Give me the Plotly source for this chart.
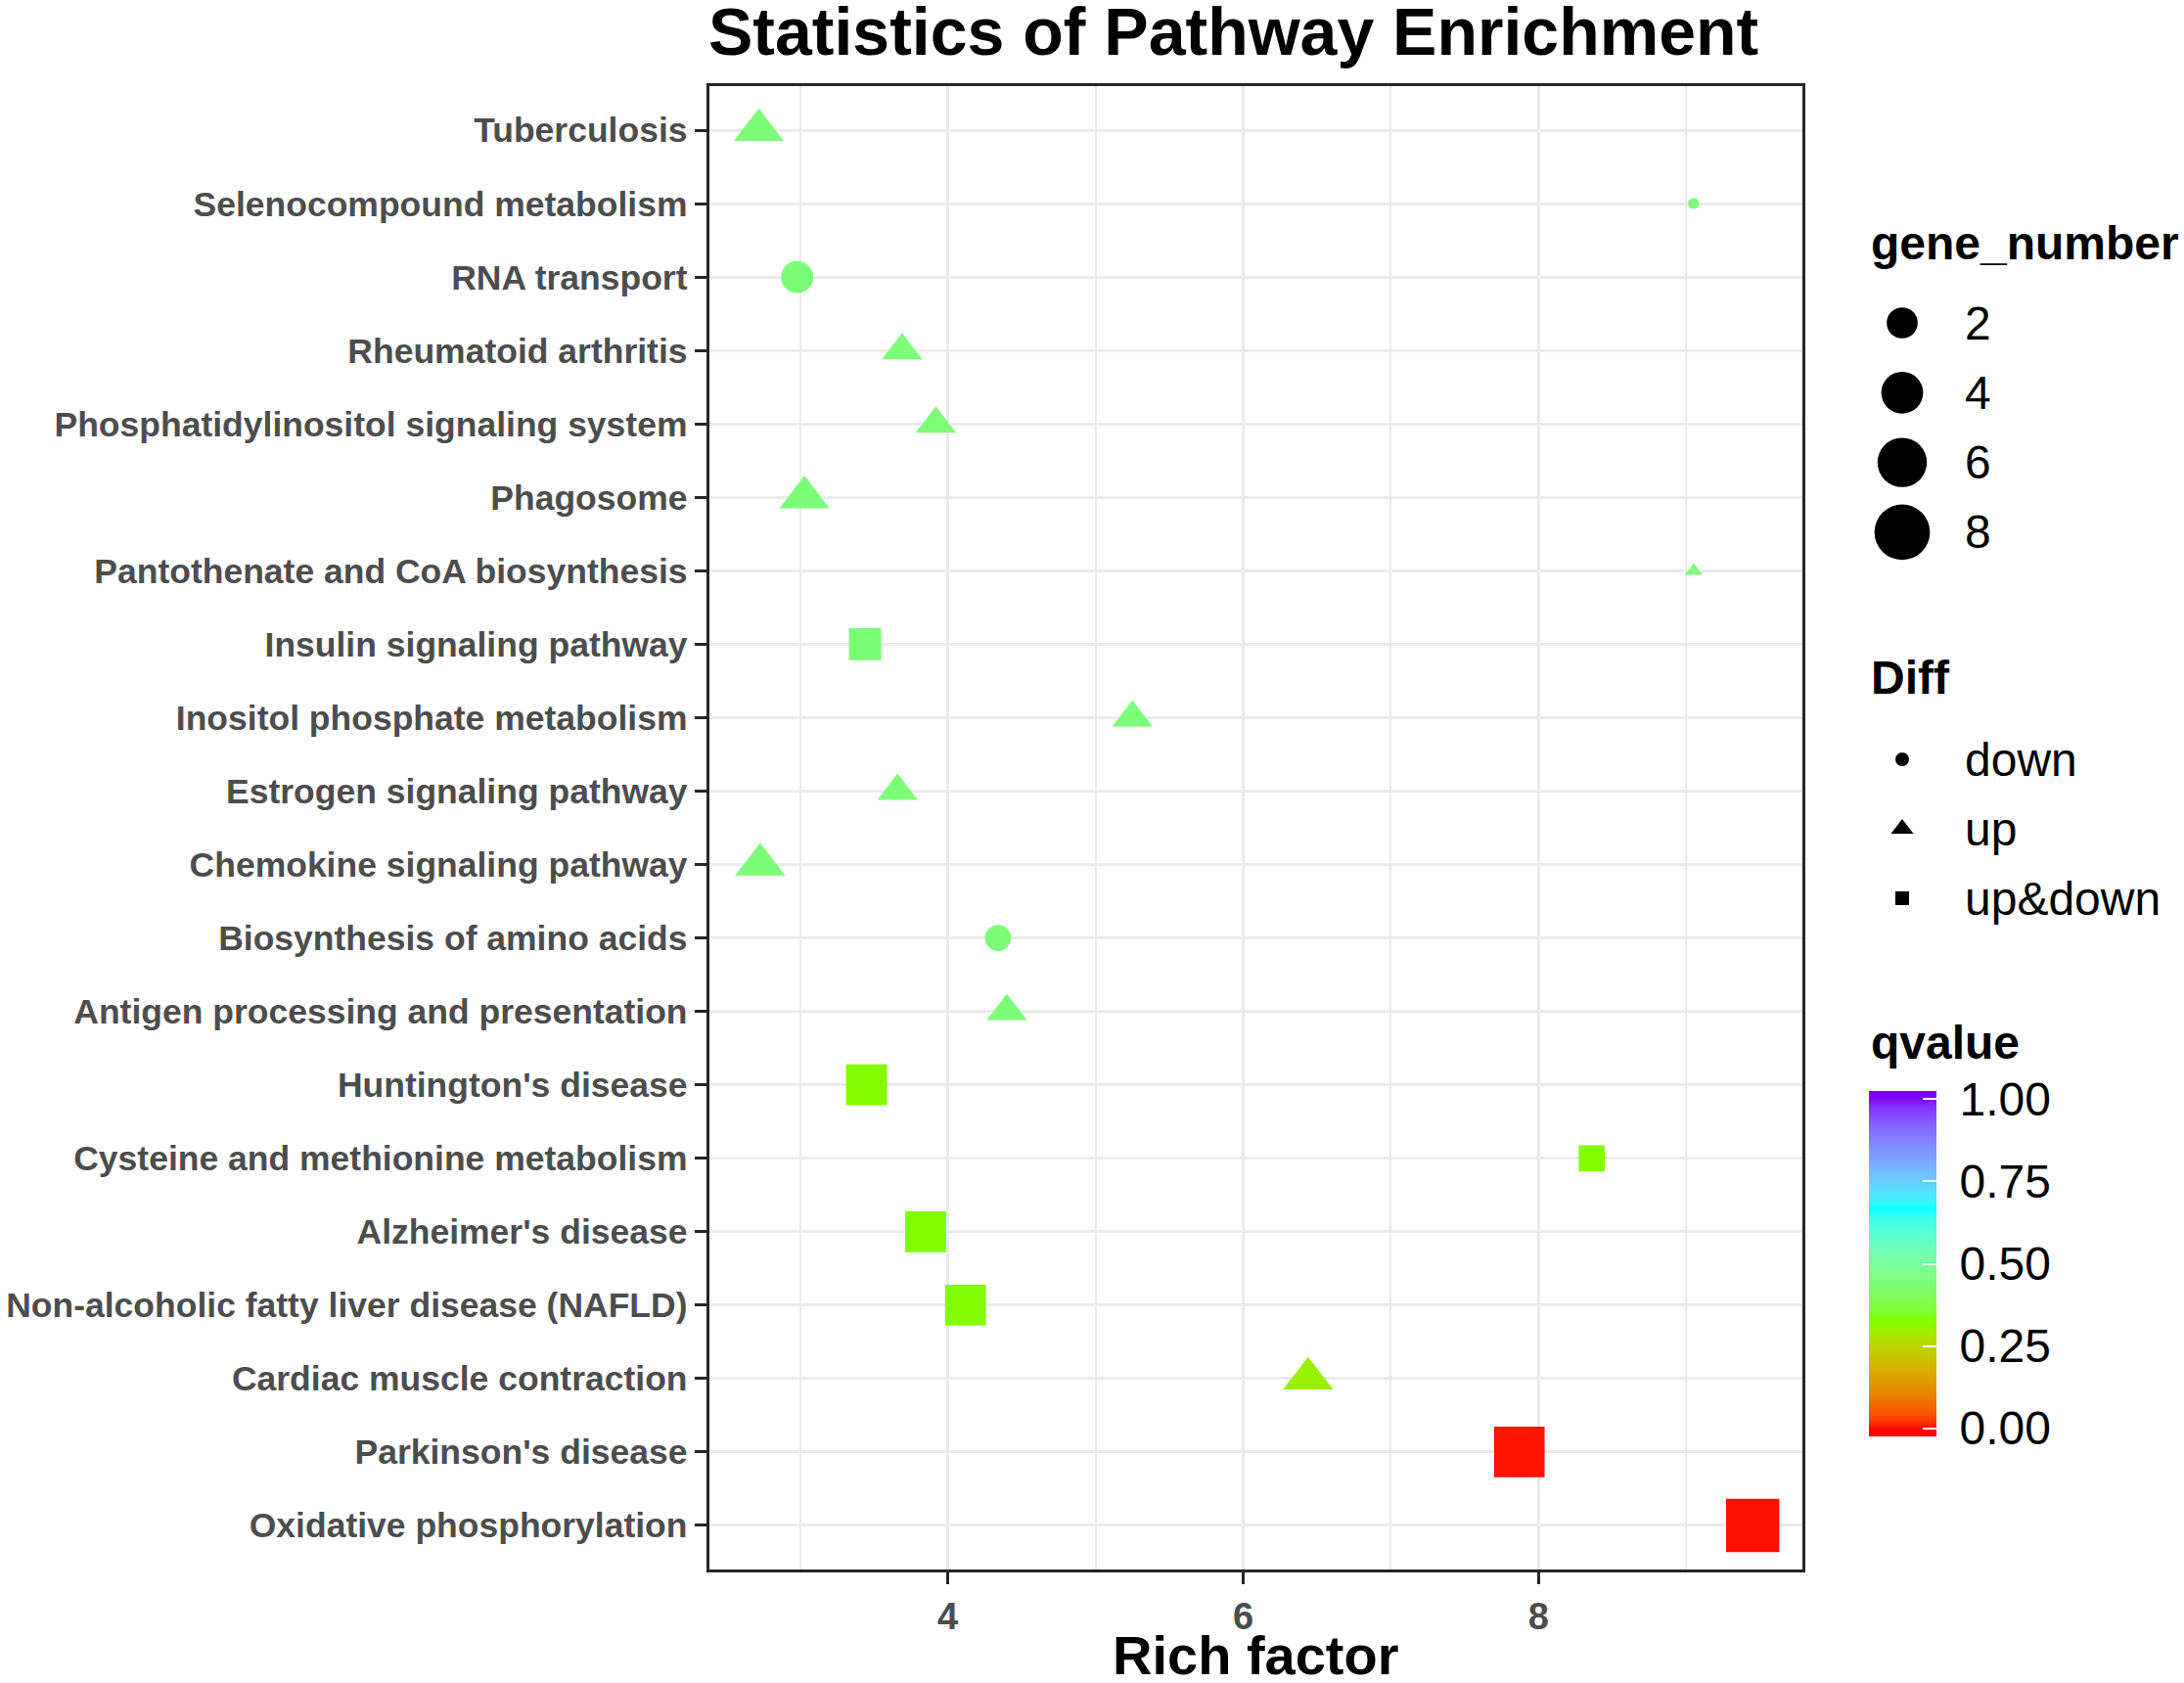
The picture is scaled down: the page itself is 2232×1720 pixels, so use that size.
import plotly.graph_objects as go

W, H = 2232, 1720

# pathways listed bottom -> top, as on the y axis
pathways = [
    "Oxidative phosphorylation", "Parkinson's disease", "Cardiac muscle contraction",
    "Non-alcoholic fatty liver disease (NAFLD)", "Alzheimer's disease",
    "Cysteine and methionine metabolism", "Huntington's disease",
    "Antigen processing and presentation", "Biosynthesis of amino acids",
    "Chemokine signaling pathway", "Estrogen signaling pathway",
    "Inositol phosphate metabolism", "Insulin signaling pathway",
    "Pantothenate and CoA biosynthesis", "Phagosome",
    "Phosphatidylinositol signaling system", "Rheumatoid arthritis",
    "RNA transport", "Selenocompound metabolism", "Tuberculosis",
]
rich_factor = [9.45, 7.87, 6.44, 4.12, 3.85, 8.36, 3.45, 4.40, 4.34, 2.73,
               3.66, 5.25, 3.44, 9.05, 3.03, 3.92, 3.69, 2.98, 9.05, 2.72]
gene_number = [9, 8, 3, 5, 5, 2, 5, 2, 2, 3, 2, 2, 3, 1, 3, 2, 2, 3, 1, 3]
qvalue = [0.002, 0.004, 0.30, 0.33, 0.33, 0.33, 0.33, 0.445, 0.445, 0.445,
          0.445, 0.445, 0.445, 0.445, 0.445, 0.445, 0.445, 0.445, 0.445, 0.445]
diff = ["up&down", "up&down", "up", "up&down", "up&down", "up&down", "up&down",
        "up", "down", "up", "up", "up", "up&down", "up", "up", "up", "up",
        "down", "down", "up"]

size_breaks = [2, 4, 6, 8]
diff_levels = ["down", "up", "up&down"]
q_breaks = [0, 0.25, 0.5, 0.75, 1.0]

FONT = "Liberation Sans"
SYMBOLS = {"down": "circle", "up": "triangle-up", "up&down": "square"}


# ---- colour ramp: rainbow(4) interpolated in CIELAB, like ggplot's gradientn
RAMP = ["#FF0000", "#80FF00", "#00FFFF", "#8000FF"]
WHITE = (0.95047, 1.0, 1.08883)


def to_lab(hexcol):
    rgb = [int(hexcol[i:i + 2], 16) / 255 for i in (1, 3, 5)]
    r, g, b = [c / 12.92 if c <= 0.04045 else ((c + 0.055) / 1.055) ** 2.4 for c in rgb]
    xyz = (0.4124 * r + 0.3576 * g + 0.1805 * b,
           0.2126 * r + 0.7152 * g + 0.0722 * b,
           0.0193 * r + 0.1192 * g + 0.9505 * b)
    f = [t ** (1 / 3) if t > (6 / 29) ** 3 else t / (3 * (6 / 29) ** 2) + 4 / 29
         for t in (v / n for v, n in zip(xyz, WHITE))]
    return (116 * f[1] - 16, 500 * (f[0] - f[1]), 200 * (f[1] - f[2]))


def from_lab(lab):
    L, a, b = lab
    fy = (L + 16) / 116
    fs = (fy + a / 500, fy, fy - b / 200)
    X, Y, Z = [n * (t ** 3 if t > 6 / 29 else 3 * (6 / 29) ** 2 * (t - 4 / 29))
               for t, n in zip(fs, WHITE)]
    lin = (3.2406 * X - 1.5372 * Y - 0.4986 * Z,
           -0.9689 * X + 1.8758 * Y + 0.0415 * Z,
           0.0557 * X - 0.2040 * Y + 1.0570 * Z)
    out = []
    for c in lin:
        c = min(max(c, 0), 1)
        c = 12.92 * c if c <= 0.0031308 else 1.055 * c ** (1 / 2.4) - 0.055
        out.append(round(min(max(c, 0), 1) * 255))
    return "rgb({},{},{})".format(*out)


RAMP_LAB = [to_lab(c) for c in RAMP]


def ramp(v):
    v = min(max(v, 0.0), 1.0)
    seg = min(int(v * 3), 2)
    t = v * 3 - seg
    a, b = RAMP_LAB[seg], RAMP_LAB[seg + 1]
    return from_lab(tuple(a[i] + (b[i] - a[i]) * t for i in range(3)))


# ggplot colourbar puts the end ticks half a bin inside the bar
Q_LO, Q_HI = -0.025, 1.025
colorscale = [[i / 100, ramp(Q_LO + (Q_HI - Q_LO) * i / 100)] for i in range(101)]


# ---- size scale (area scale, range 1..6 like scale_size)
G_MIN, G_MAX = min(gene_number), max(gene_number)
PX_PER_SIZE = 8.6


def size_px(n):
    s = 1 + 5 * ((n - G_MIN) / (G_MAX - G_MIN)) ** 0.5
    return PX_PER_SIZE * (s + 0.33)


def marker_px(n, shape):
    d = size_px(n)
    return d * 1.35 if shape == "up" else d


# ---- panel geometry (pixels)
PX_L, PX_R, PX_T, PX_B = 724.6, 1842, 88, 1604
span = max(rich_factor) - min(rich_factor)
x_range = [min(rich_factor) - 0.05 * span, max(rich_factor) + 0.05 * span]

fig = go.Figure()

fig.add_trace(go.Scatter(
    x=rich_factor, y=pathways, mode="markers",
    marker=dict(
        symbol=[SYMBOLS[d] for d in diff],
        size=[marker_px(n, d) for n, d in zip(gene_number, diff)],
        color=qvalue, cmin=Q_LO, cmax=Q_HI, colorscale=colorscale,
        line=dict(width=0), opacity=1,
        showscale=True,
        colorbar=dict(
            x=1910 / W, xanchor="left", xpad=0,
            y=1 - 1291.5 / H, yanchor="middle", ypad=0,
            len=353, lenmode="pixels", thickness=69, thicknessmode="pixels",
            outlinewidth=0, tickvals=q_breaks,
            ticktext=["\u00a0{:.2f}".format(v) for v in q_breaks],
            ticks="inside", ticklen=14, tickwidth=2, tickcolor="white",
            tickfont=dict(family=FONT, size=48, color="black"),
            title=dict(text=""),
        ),
    ),
    showlegend=False, hoverinfo="x+y",
))

# ---- hand-built legends for gene_number and Diff (pixel axes on the right)
KEY_X, LABEL_X, TITLE_X = 1944, 2006, 1910
size_y = [330 + 71.3 * i for i in range(len(size_breaks))]
diff_y = [776 + 71 * i for i in range(len(diff_levels))]

fig.add_trace(go.Scatter(
    x=[KEY_X] * len(size_breaks), y=size_y, xaxis="x2", yaxis="y2", mode="markers",
    marker=dict(symbol="circle", color="black", opacity=1, line=dict(width=0),
                size=[size_px(n) + 5 for n in size_breaks]),
    showlegend=False, hoverinfo="skip",
))
fig.add_trace(go.Scatter(
    x=[KEY_X] * len(diff_levels), y=diff_y, xaxis="x2", yaxis="y2", mode="markers",
    marker=dict(symbol=[SYMBOLS[d] for d in diff_levels], color="black", opacity=1,
                line=dict(width=0), size=[20 if d == "up" else 14 for d in diff_levels]),
    showlegend=False, hoverinfo="skip",
))

annotations = []
for lab, yy in zip([str(n) for n in size_breaks] + diff_levels, size_y + diff_y):
    annotations.append(dict(x=LABEL_X, y=yy, xref="x2", yref="y2", text=lab,
                            xanchor="left", yanchor="middle", showarrow=False,
                            font=dict(family=FONT, size=48, color="black")))
for lab, base in [("gene_number", 265), ("Diff", 709), ("qvalue", 1082)]:
    annotations.append(dict(x=TITLE_X, y=base - 17, xref="x2", yref="y2", text=lab,
                            xanchor="left", yanchor="middle", showarrow=False,
                            font=dict(family=FONT, size=48, color="black", weight="bold")))
annotations.append(dict(x=1260 / W, y=1 - 32 / H, xref="paper", yref="paper",
                        text="Statistics of Pathway Enrichment", xanchor="center",
                        yanchor="middle", showarrow=False,
                        font=dict(family=FONT, size=68, color="black", weight="bold")))
annotations.append(dict(x=(PX_L + PX_R) / 2 / W, y=1 - 1691 / H, xref="paper", yref="paper",
                        text="Rich factor", xanchor="center", yanchor="middle",
                        showarrow=False,
                        font=dict(family=FONT, size=56, color="black", weight="bold")))

grid = "#EBEBEB"
border = "#262626"

fig.update_layout(
    width=W, height=H, margin=dict(l=0, r=0, t=0, b=0),
    paper_bgcolor="white", plot_bgcolor="rgba(0,0,0,0)",
    xaxis=dict(
        domain=[PX_L / W, PX_R / W], range=x_range, tickvals=[4, 6, 8],
        ticktext=["4", "6", "8"],
        showgrid=True, gridcolor=grid, gridwidth=2.8, zeroline=False,
        minor=dict(tickvals=[3, 5, 7, 9], showgrid=True, gridcolor=grid, gridwidth=2),
        showline=True, mirror=True, linecolor=border, linewidth=3,
        ticks="outside", ticklen=12, tickwidth=3, tickcolor=border,
        tickfont=dict(family=FONT, size=38, color="#4D4D4D", weight="bold"),
        automargin=False, fixedrange=True,
    ),
    yaxis=dict(
        domain=[1 - PX_B / H, 1 - PX_T / H], type="category",
        categoryorder="array", categoryarray=pathways,
        range=[-0.6, len(pathways) - 0.4],
        showgrid=True, gridcolor=grid, gridwidth=2.8, zeroline=False,
        showline=True, mirror=True, linecolor=border, linewidth=3,
        ticks="outside", ticklen=12, tickwidth=3, tickcolor=border,
        tickfont=dict(family=FONT, size=35.5, color="#4D4D4D", weight="bold"),
        automargin=False, fixedrange=True,
    ),
    xaxis2=dict(domain=[1860 / W, 1], range=[1860, W], visible=False,
                fixedrange=True, anchor="y2"),
    yaxis2=dict(domain=[0, 1], range=[H, 0], visible=False, fixedrange=True,
                anchor="x2"),
    annotations=annotations,
)

# the page's default 8px body margin would shift the figure
fig.write_html("out.html", config={"displayModeBar": False},
               post_script="document.body.style.margin='0px';")
